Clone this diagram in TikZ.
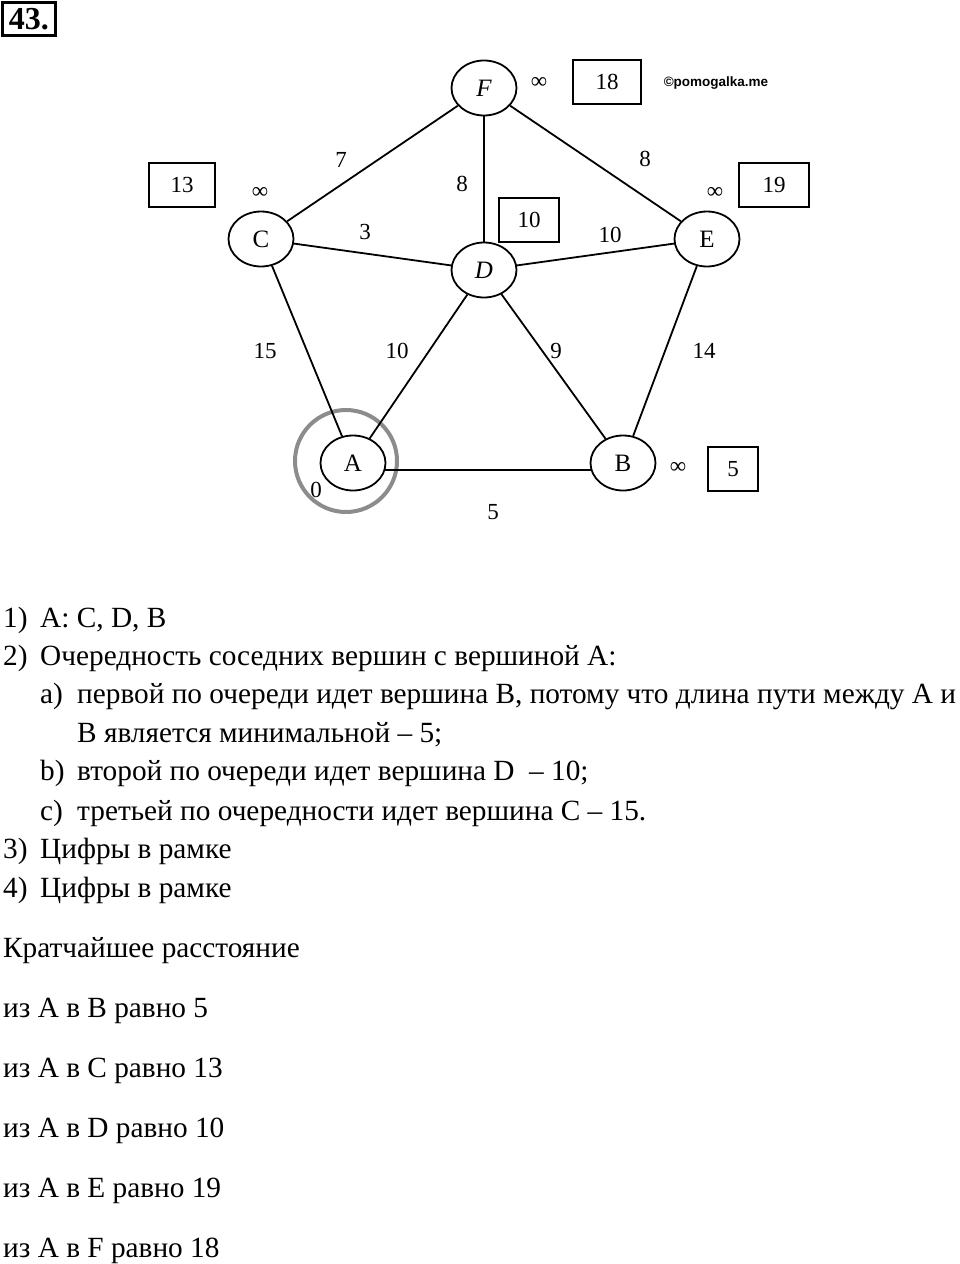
\documentclass[tikz,border=0pt]{standalone}
\usepackage{fontspec}
\setmainfont{Liberation Serif}
\newfontfamily\wmfont{Liberation Sans}
\usetikzlibrary{shapes.geometric}

\tikzset{
  vertex/.style={draw,ellipse,line width=1.8pt,minimum width=65pt,minimum height=55pt,inner sep=0pt,font=\fontsize{25}{25}\selectfont},
  edge/.style={line width=1.8pt},
  weight/.style={inner sep=0pt,font=\fontsize{23}{23}\selectfont},
  distbox/.style={draw,line width=1.8pt,minimum height=44pt,inner sep=0pt,font=\fontsize{23}{23}\selectfont},
  txt/.style={anchor=base west,inner sep=0pt,font=\fontsize{29.3}{29.3}\selectfont},
}

\begin{document}
\begin{tikzpicture}[x=1pt,y=-1pt]
    \useasboundingbox (0,0) rectangle (960,1264);
    % task number
    \node[draw,line width=2.4pt,minimum width=53pt,minimum height=33pt,inner sep=0pt,font=\fontsize{32}{32}\selectfont\bfseries] (num) at (29,19) {43.};
    \node[inner sep=0pt,font=\wmfont\bfseries\fontsize{13.5}{13.5}\selectfont] (wm) at (716,83) {©pomogalka.me};

    % start mark round A
    \node[draw=black!45,circle,line width=4pt,minimum size=102pt] (mark) at (346,461) {};

    % vertices
    \node[vertex] (F) at (484,88) {\textit{F}};
    \node[vertex] (C) at (261,239) {C};
    \node[vertex] (E) at (707,239) {E};
    \node[vertex] (D) at (484,270) {\textit{D}};
    \node[vertex] (A) at (353,463) {A};
    \node[vertex] (B) at (623,463) {B};

    % edges
    \foreach \u/\v in {F/C, F/D, F/E, C/D, D/E, C/A, D/A, D/B, E/B}{
      \draw[edge] (\u) -- (\v);
    }
    \draw[edge] (A.-12) -- (B.192);

    % weights
    \foreach \x/\y/\w/\n in {341/160/7/wFC, 462/184/8/wFD, 645/159/8/wFE, 365/232/3/wCD, 610/235/10/wDE,
                             265/351/15/wCA, 397/351/10/wDA, 556/351/9/wDB, 704/351/14/wEB, 493/512/5/wAB}{
      \node[weight] (\n) at (\x,\y) {\w};
    }

    % initial labels
    \foreach \x/\y/\n in {539/83/iF, 260/193/iC, 715/193/iE, 678/468/iB}{
      \node[weight] (\n) at (\x,\y) {∞};
    }
    \node[weight] (iA) at (316,490) {0};

    % boxed distances
    \node[distbox,minimum width=66pt] (dC) at (182,185) {13};
    \node[distbox,minimum width=68pt] (dF) at (607,82) {18};
    \node[distbox,minimum width=60pt] (dD) at (529,220) {10};
    \node[distbox,minimum width=70pt] (dE) at (774,185) {19};
    \node[distbox,minimum width=50pt] (dB) at (733,469) {5};

    % answer text
    \foreach \y/\k/\t in {627/1/{A: C, D, B}, 665/2/{Очередность соседних вершин с вершиной А:},
                          858/3/{Цифры в рамке}, 897/4/{Цифры в рамке}}{
      \node[txt] (n\k) at (3,\y) {\k)};
      \node[txt] (t\k) at (40,\y) {\t};
    }
    \foreach \y/\k/\t in {703/a/{первой по очереди идет вершина В, потому что длина пути между А и},
                          780/b/{второй по очереди идет вершина D\ \ – 10;},
                          820/c/{третьей по очередности идет вершина С – 15.}}{
      \node[txt] (s\k) at (40,\y) {\k)};
      \node[txt] (u\k) at (77,\y) {\t};
    }
    \node[txt] (ua2) at (77,742) {В является минимальной – 5;};
    \node[txt] (res) at (3,957) {Кратчайшее расстояние};
    \foreach \y/\v/\d in {1017/B/5, 1077/C/13, 1137/D/10, 1197/E/19, 1257/F/18}{
      \node[txt] (r\v) at (3,\y) {из А в \v{} равно \d};
    }
\end{tikzpicture}
\end{document}
